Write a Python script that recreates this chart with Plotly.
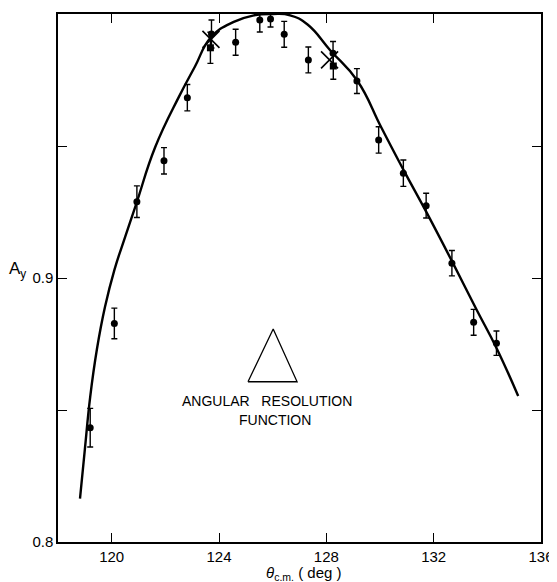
import plotly.graph_objects as go

# Measured data points (dots)
theta = [119.2, 120.1, 120.94, 121.95, 122.82, 123.72, 124.62, 125.52, 125.92,
         126.43, 127.33, 128.25, 129.14, 129.95, 130.87, 131.72, 132.68, 133.49, 134.34]
ay = [0.8433, 0.8828, 0.9289, 0.9444, 0.9683, 0.9924, 0.9893, 0.9977, 0.9981,
      0.9923, 0.9826, 0.9851, 0.9746, 0.9523, 0.9397, 0.9274, 0.9056, 0.8832, 0.8753]
ay_err = [0.0073, 0.0058, 0.006, 0.005, 0.005, 0.0053, 0.0049, 0.0045, 0.003,
          0.0049, 0.0049, 0.0045, 0.0047, 0.005, 0.005, 0.0047, 0.0048, 0.0049, 0.0046]

# Second set (square symbols)
theta_sq = [123.68, 128.26]
ay_sq = [0.9872, 0.9803]
ay_sq_err = [0.0059, 0.0050]

# "X" markers
theta_x = [123.7, 128.12]
ay_x = [0.9904, 0.9826]

# Theory curve
curve_x = [118.82, 119.0, 119.2, 119.45, 119.75, 120.1, 120.5, 120.92, 121.62,
           122.5, 123.1, 123.7, 124.55, 125.3, 126.0, 126.65, 127.3, 128.15, 129.15,
           130.05, 130.9, 131.7, 132.7, 133.6, 134.34, 135.15]
curve_y = [0.8164, 0.835, 0.855, 0.873, 0.889, 0.903, 0.9155, 0.9282, 0.9495,
           0.9685, 0.980, 0.9912, 0.997, 0.9995, 1.0, 0.9995, 0.996, 0.9862, 0.9748,
           0.957, 0.9405, 0.9255, 0.906, 0.888, 0.8735, 0.8553]

# Angular resolution function triangle
tri_x = [125.08, 126.02, 126.91, 125.08]
tri_y = [0.8607, 0.8807, 0.8607, 0.8607]

x_ticks = [120, 124, 128, 132, 136]
y_ticks = [0.8, 0.9, 1.0]
y_ticklabels = ["0.8", "0.9", "1.0"]

FONT = "Liberation Sans, Arial, sans-serif"

fig = go.Figure()

fig.add_trace(go.Scatter(x=curve_x, y=curve_y, mode="lines",
                         line=dict(color="black", width=2.4, shape="spline", smoothing=1.3),
                         showlegend=False, hoverinfo="skip"))

fig.add_trace(go.Scatter(x=theta, y=ay, mode="markers",
                         marker=dict(color="black", size=7),
                         error_y=dict(type="data", array=ay_err, color="black",
                                      thickness=1.4, width=3),
                         showlegend=False))

fig.add_trace(go.Scatter(x=theta_sq, y=ay_sq, mode="markers",
                         marker=dict(color="black", size=7, symbol="square"),
                         error_y=dict(type="data", array=ay_sq_err, color="black",
                                      thickness=1.4, width=3),
                         showlegend=False))

fig.add_trace(go.Scatter(x=theta_x, y=ay_x, mode="markers",
                         marker=dict(color="black", size=17, symbol="x-thin-open",
                                     line=dict(color="black", width=1.6)),
                         showlegend=False))

fig.add_trace(go.Scatter(x=tri_x, y=tri_y, mode="lines",
                         line=dict(color="black", width=1.3),
                         showlegend=False, hoverinfo="skip"))

fig.add_annotation(x=125.79, y=0.8534, xref="x", yref="y",
                   text="ANGULAR&nbsp;&nbsp;&nbsp;RESOLUTION", showarrow=False,
                   font=dict(family=FONT, size=14, color="black"))
fig.add_annotation(x=126.09, y=0.8461, xref="x", yref="y",
                   text="FUNCTION", showarrow=False,
                   font=dict(family=FONT, size=14, color="black"))

fig.add_annotation(x=-0.062, y=0.515, xref="paper", yref="paper", xanchor="right",
                   text="A<sub>y</sub>", showarrow=False,
                   font=dict(family=FONT, size=17, color="black"))
fig.add_annotation(x=0.509, y=-0.038, xref="paper", yref="paper", yanchor="top",
                   text="<i>θ</i><sub>c.m.</sub> ( deg )", showarrow=False,
                   font=dict(family=FONT, size=15, color="black"))

fig.update_xaxes(range=[118, 136], tickvals=x_ticks, ticktext=[str(v) for v in x_ticks],
                 ticks="inside", ticklen=9, tickwidth=1.2, tickcolor="black",
                 showline=True, linecolor="black", linewidth=1.5, mirror="ticks",
                 showgrid=False, zeroline=False, automargin=False,
                 tickfont=dict(family=FONT, size=15, color="black"))
fig.update_yaxes(range=[0.8, 1.0], tickvals=y_ticks, ticktext=y_ticklabels,
                 ticks="inside", ticklen=9, tickwidth=1.2, tickcolor="black",
                 minor=dict(tickvals=[0.85, 0.95], ticks="inside", ticklen=9,
                            tickwidth=1.2, tickcolor="black", showgrid=False),
                 showline=True, linecolor="black", linewidth=1.5, mirror="ticks",
                 showgrid=False, zeroline=False, automargin=False,
                 tickfont=dict(family=FONT, size=15, color="black"))

# The page body adds an 8px offset; margins compensate so the plot area
# lands where the reference's frame is.
fig.update_layout(width=557, height=582,
                  margin=dict(l=50, r=24, t=6, b=48),
                  paper_bgcolor="white", plot_bgcolor="white")

fig.write_html("out.html")
